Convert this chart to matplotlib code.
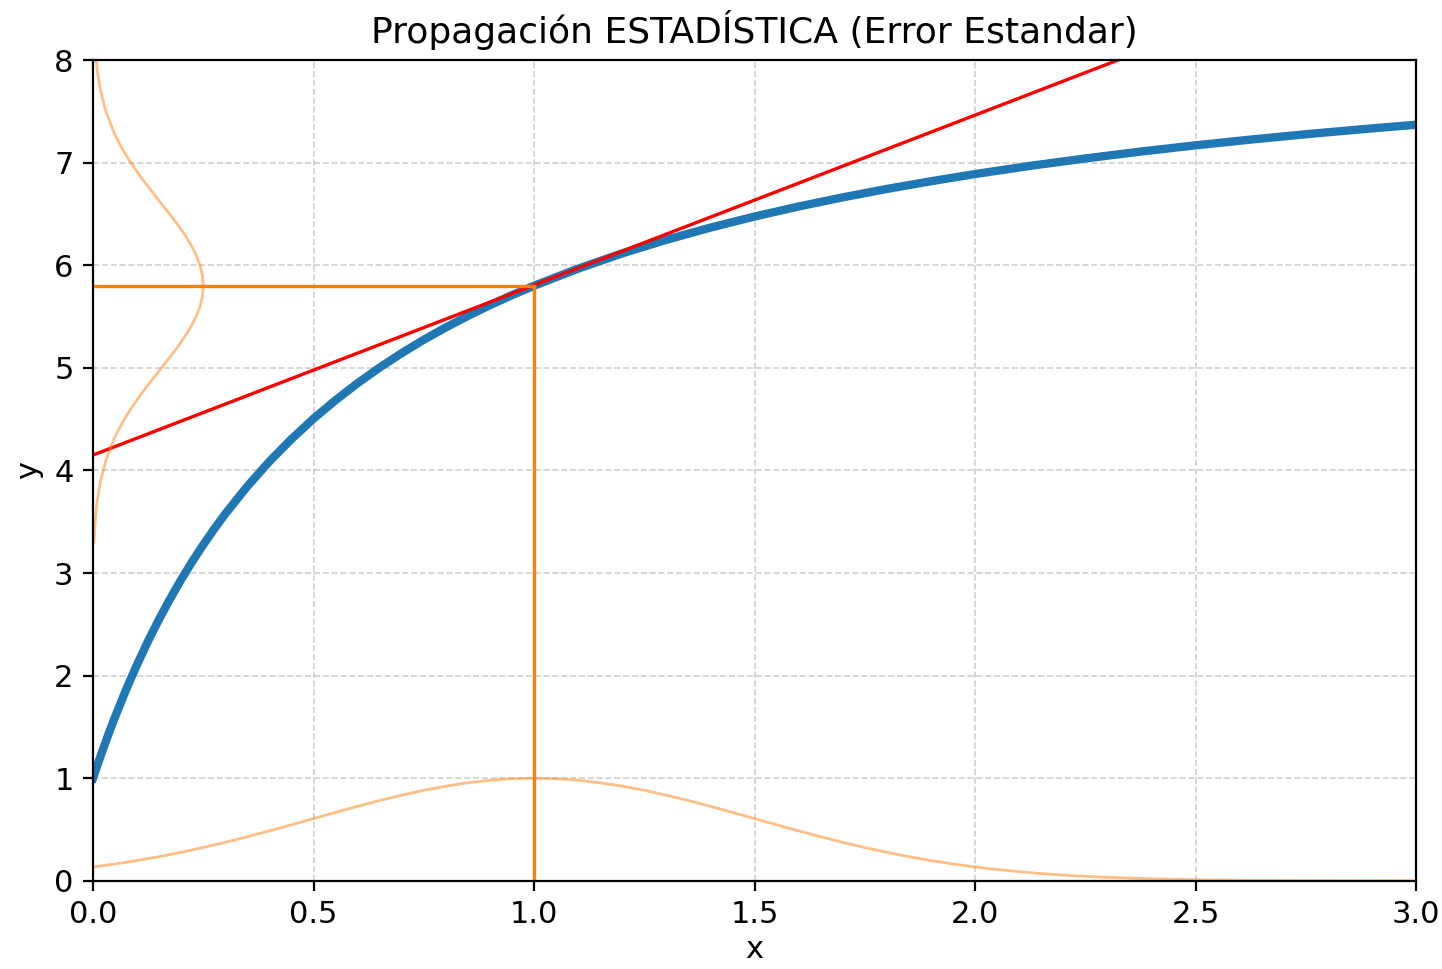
import matplotlib
matplotlib.use("Agg")
import matplotlib.pyplot as plt

# curve y = f(x)
curve_x = [0.0, 0.0125, 0.025, 0.0375, 0.05, 0.075, 0.1, 0.125, 0.15, 0.175, 0.2,
           0.225, 0.25, 0.275, 0.3, 0.35, 0.4, 0.45, 0.5, 0.55, 0.6, 0.65, 0.7,
           0.75, 0.8, 0.85, 0.9, 0.95, 1.0, 1.1, 1.2, 1.3, 1.4, 1.5, 1.6, 1.7,
           1.8, 1.9, 2.0, 2.125, 2.25, 2.375, 2.5, 2.625, 2.75, 2.875, 3.0]
curve_y = [1.0, 1.159, 1.311, 1.458, 1.598, 1.864, 2.109, 2.338, 2.551, 2.750, 2.937,
           3.112, 3.276, 3.431, 3.577, 3.846, 4.088, 4.306, 4.505, 4.685, 4.851, 5.003,
           5.144, 5.274, 5.394, 5.506, 5.611, 5.709, 5.800, 5.967, 6.116, 6.248, 6.367,
           6.475, 6.573, 6.662, 6.744, 6.819, 6.889, 6.969, 7.041, 7.108, 7.169,
           7.225, 7.277, 7.325, 7.370]

# tangent at x0
tan_x = [0.0, 3.0]
tan_y = [4.15, 9.12]

x0 = 1.0
y0 = 5.8

# input distribution (bottom)
gx = [0.0, 0.05, 0.1, 0.15, 0.2, 0.25, 0.3, 0.35, 0.4, 0.45, 0.5, 0.55, 0.6, 0.65,
      0.7, 0.75, 0.8, 0.85, 0.9, 0.95, 1.0, 1.05, 1.1, 1.15, 1.2, 1.25, 1.3, 1.35,
      1.4, 1.45, 1.5, 1.55, 1.6, 1.65, 1.7, 1.75, 1.8, 1.85, 1.9, 1.95, 2.0, 2.05,
      2.1, 2.15, 2.2, 2.25, 2.3, 2.4, 2.5, 2.6, 2.7, 2.8, 2.9, 3.0]
gy = [0.135, 0.1645, 0.198, 0.2357, 0.278, 0.3247, 0.375, 0.4296, 0.487, 0.5461,
      0.607, 0.667, 0.726, 0.7827, 0.835, 0.8825, 0.923, 0.956, 0.980, 0.995, 1.0,
      0.995, 0.980, 0.956, 0.923, 0.8825, 0.835, 0.7827, 0.726, 0.667, 0.607,
      0.5461, 0.487, 0.4296, 0.375, 0.3247, 0.278, 0.2357, 0.198, 0.1645, 0.135,
      0.1103, 0.089, 0.071, 0.056, 0.0439, 0.034, 0.020, 0.011, 0.006, 0.003,
      0.0015, 0.0007, 0.0003]

# propagated distribution (left)
py = [3.3, 3.5, 3.7, 3.9, 4.1, 4.3, 4.4, 4.5, 4.6, 4.7, 4.8, 4.9, 5.0, 5.1, 5.2,
      5.3, 5.4, 5.5, 5.6, 5.7, 5.8, 5.9, 6.0, 6.1, 6.2, 6.3, 6.4, 6.5, 6.6, 6.7,
      6.8, 6.9, 7.0, 7.1, 7.2, 7.3, 7.5, 7.7, 7.9, 8.1, 8.3]
px = [0.0024, 0.0049, 0.0094, 0.0171, 0.0292, 0.0469, 0.0582, 0.0711, 0.0857,
      0.1016, 0.1189, 0.1369, 0.1553, 0.1737, 0.1913, 0.2076, 0.2220, 0.2338,
      0.2427, 0.2482, 0.25, 0.2482, 0.2427, 0.2338, 0.2220, 0.2076, 0.1913,
      0.1737, 0.1553, 0.1369, 0.1189, 0.1016, 0.0857, 0.0711, 0.0582, 0.0469,
      0.0292, 0.0171, 0.0094, 0.0049, 0.0024]

plt.rcParams['font.size'] = 11

fig = plt.figure(figsize=(7.21, 4.845), dpi=200)
ax = fig.add_axes([0.0645, 0.091, 0.9175, 0.847])

ax.plot(curve_x, curve_y, color='tab:blue', lw=3)
ax.plot(tan_x, tan_y, color='red', lw=1.2)
ax.plot([0, x0], [y0, y0], color='tab:orange', lw=1.2)
ax.plot([x0, x0], [0, y0], color='tab:orange', lw=1.2)
ax.plot(gx, gy, color='tab:orange', alpha=0.5, lw=1)
ax.plot(px, py, color='tab:orange', alpha=0.5, lw=1)

ax.set_xlim(0, 3)
ax.set_ylim(0, 8)
ax.grid(True, ls='--', lw=0.6, color='#b0b0b0', alpha=0.6)
ax.set_xlabel('x', labelpad=2)
ax.set_ylabel('y', labelpad=4)
ax.set_title('Propagación ESTADÍSTICA (Error Estandar)', fontsize=13)

fig.savefig('out.png', dpi=200)
